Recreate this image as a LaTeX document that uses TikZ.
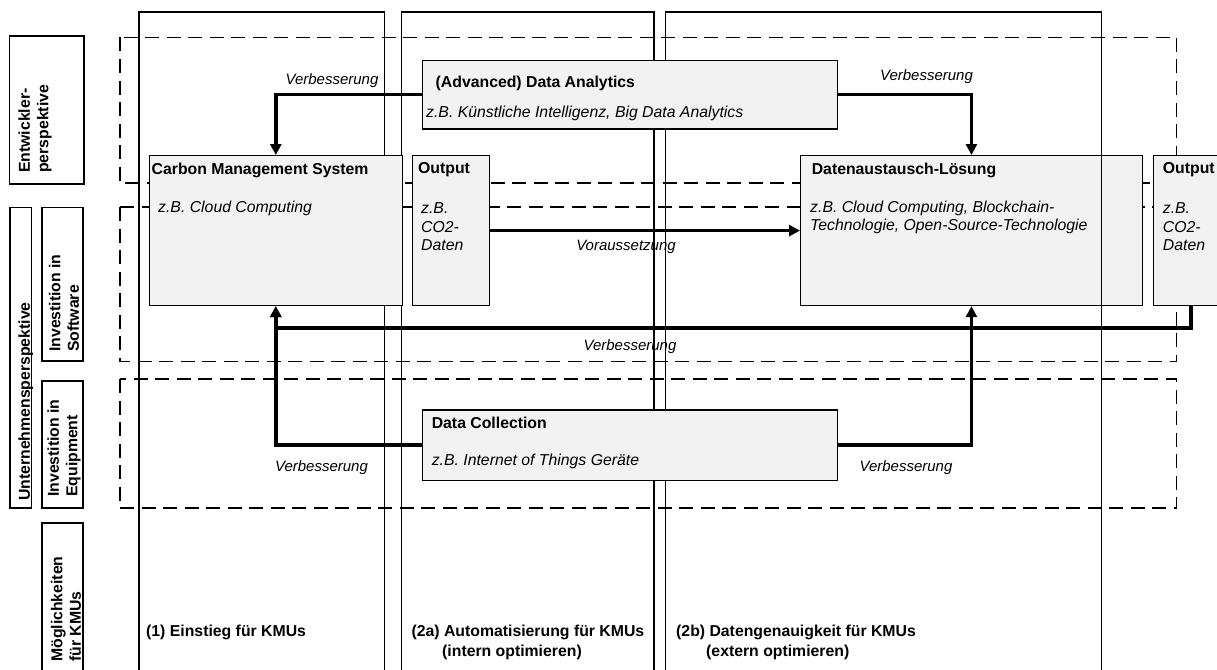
\documentclass[tikz,border=0pt]{standalone}
\usepackage{fontspec}
\setmainfont{Liberation Sans}
\usetikzlibrary{arrows.meta}
\definecolor{boxfill}{HTML}{F2F2F2}
\begin{document}
\begin{tikzpicture}[x=1pt,y=-1pt,
  colbox/.style={line width=1.4pt},
  dashbox/.style={line width=1.4pt, dash pattern=on 14pt off 7.5pt},
  sbox/.style={draw, line width=1.2pt, fill=boxfill, inner sep=0pt, anchor=north west},
  ttl/.style={font=\fontsize{15.8}{18.4}\selectfont\bfseries, anchor=west, inner sep=0pt},
  itx/.style={font=\fontsize{15.8}{18.4}\selectfont\itshape, anchor=west, inner sep=0pt, align=left},
  lbl/.style={font=\fontsize{15}{18}\selectfont\itshape, inner sep=0pt},
  conn/.style={line width=3.4pt},
  arr/.style={conn, -{Triangle[length=11pt,width=11pt]}},
  sidebox/.style={draw, line width=1.4pt},
  sidetxt/.style={font=\fontsize{15.8}{18.4}\selectfont\bfseries, rotate=90, align=left, inner sep=0pt, anchor=west},
  bot/.style={font=\fontsize{15.8}{19.5}\selectfont\bfseries, anchor=west, inner sep=0pt}
]
\useasboundingbox (0,0) rectangle (1217,669);

% dashed perspective bands
\draw[dashbox] (120,37.5) rectangle (1176.5,183);
\draw[dashbox] (120,207) rectangle (1176.5,361.5);
\draw[dashbox] (120,379) rectangle (1176.5,508);

% columns
\draw[colbox] (139,690) -- (139,12) -- (384.5,12) -- (384.5,690);
\draw[colbox] (401.5,690) -- (401.5,12) -- (654,12) -- (654,690);
\draw[colbox] (665.5,690) -- (665.5,12) -- (1101.5,12) -- (1101.5,690);

% left side labels
\draw[sidebox] (9.5,36) rectangle (84,184);
\draw[sidebox] (10,207.5) rectangle (31.5,508);
\draw[sidebox] (42,207.5) rectangle (83,361);
\draw[sidebox] (42,381) rectangle (83,508);
\draw[sidebox] (42,523) rectangle (83,690);
\node[sidetxt] (lent) at (35,173) {Entwickler-\\perspektive};
\node[sidetxt] (lunt) at (25.8,501) {Unternehmensperspektive};
\node[sidetxt] (lsoft) at (64,352) {Investition in\\Software};
\node[sidetxt] (lequ) at (64,497) {Investition in\\Equipment};
\node[sidetxt] (lmog) at (66,662) {Möglichkeiten\\für KMUs};

% boxes
\node[sbox, minimum width=414.7pt, minimum height=68.3pt] (da) at (421.8,60) {};
\node[sbox, minimum width=253.2pt, minimum height=150pt] (cms) at (148.6,155) {};
\node[sbox, minimum width=76.4pt, minimum height=150pt] (out1) at (412.1,155) {};
\node[sbox, minimum width=341.7pt, minimum height=150pt] (dat) at (800,155) {};
\node[sbox, minimum width=90pt, minimum height=150pt] (out2) at (1152.6,155) {};
\node[sbox, minimum width=414.7pt, minimum height=70.2pt] (dc) at (421.8,409.3) {};

\draw[colbox] (1101.5,155) -- (1101.5,305);

% box texts
\node[ttl] (daT) at (435.5,83) {(Advanced) Data Analytics};
\node[itx] (daI) at (426,113) {z.B. Künstliche Intelligenz, Big Data Analytics};
\node[ttl] (cmsT) at (151.5,170) {Carbon Management System};
\node[itx] (cmsI) at (158,208.3) {z.B. Cloud Computing};
\node[ttl] (o1T) at (418,170) {Output};
\node[itx] (o1I) at (421,226.7) {z.B.\\CO2-\\Daten};
\node[ttl] (datT) at (811.6,170) {Datenaustausch-Lösung};
\node[itx] (datI) at (810,217.5) {z.B. Cloud Computing, Blockchain-\\Technologie, Open-Source-Technologie};
\node[ttl] (o2T) at (1162.7,170) {Output};
\node[itx] (o2I) at (1162.7,226.7) {z.B.\\CO2-\\Daten};
\node[ttl] (dcT) at (431.6,423.3) {Data Collection};
\node[itx] (dcI) at (431.6,461.7) {z.B. Internet of Things Geräte};

% connectors
\coordinate (y328) at (0,328);
\coordinate (o2) at ([xshift=38.5pt]out2.south west);
\coordinate (j) at (cms.south |- y328);
\draw[arr] (da.west) -| (cms.north);
\draw[arr] (da.east) -| (dat.north);
\draw[arr] (out1.east) -- (dat.west);
\draw[arr] (o2) |- (j) -- (cms.south);
\draw[arr] (dc.west) -| (cms.south);
\draw[arr] (dc.east) -| (dat.south);

% connector labels
\node[lbl] (v1) at (332,81) {Verbesserung};
\node[lbl] (v2) at (926.5,77) {Verbesserung};
\node[lbl] (vor) at (626,246.7) {Voraussetzung};
\node[lbl] (v3) at (630,346.7) {Verbesserung};
\node[lbl] (v4) at (321.5,468) {Verbesserung};
\node[lbl] (v5) at (906,468) {Verbesserung};

% bottom labels
\node[bot] (b1) at (146,632) {(1) Einstieg für KMUs};
\node[bot] (b2) at (411.4,632) {(2a) Automatisierung für KMUs};
\node[bot] (b2b) at (442,652) {(intern optimieren)};
\node[bot] (b3) at (676,632) {(2b) Datengenauigkeit für KMUs};
\node[bot] (b3b) at (706,652) {(extern optimieren)};
\end{tikzpicture}
\end{document}
